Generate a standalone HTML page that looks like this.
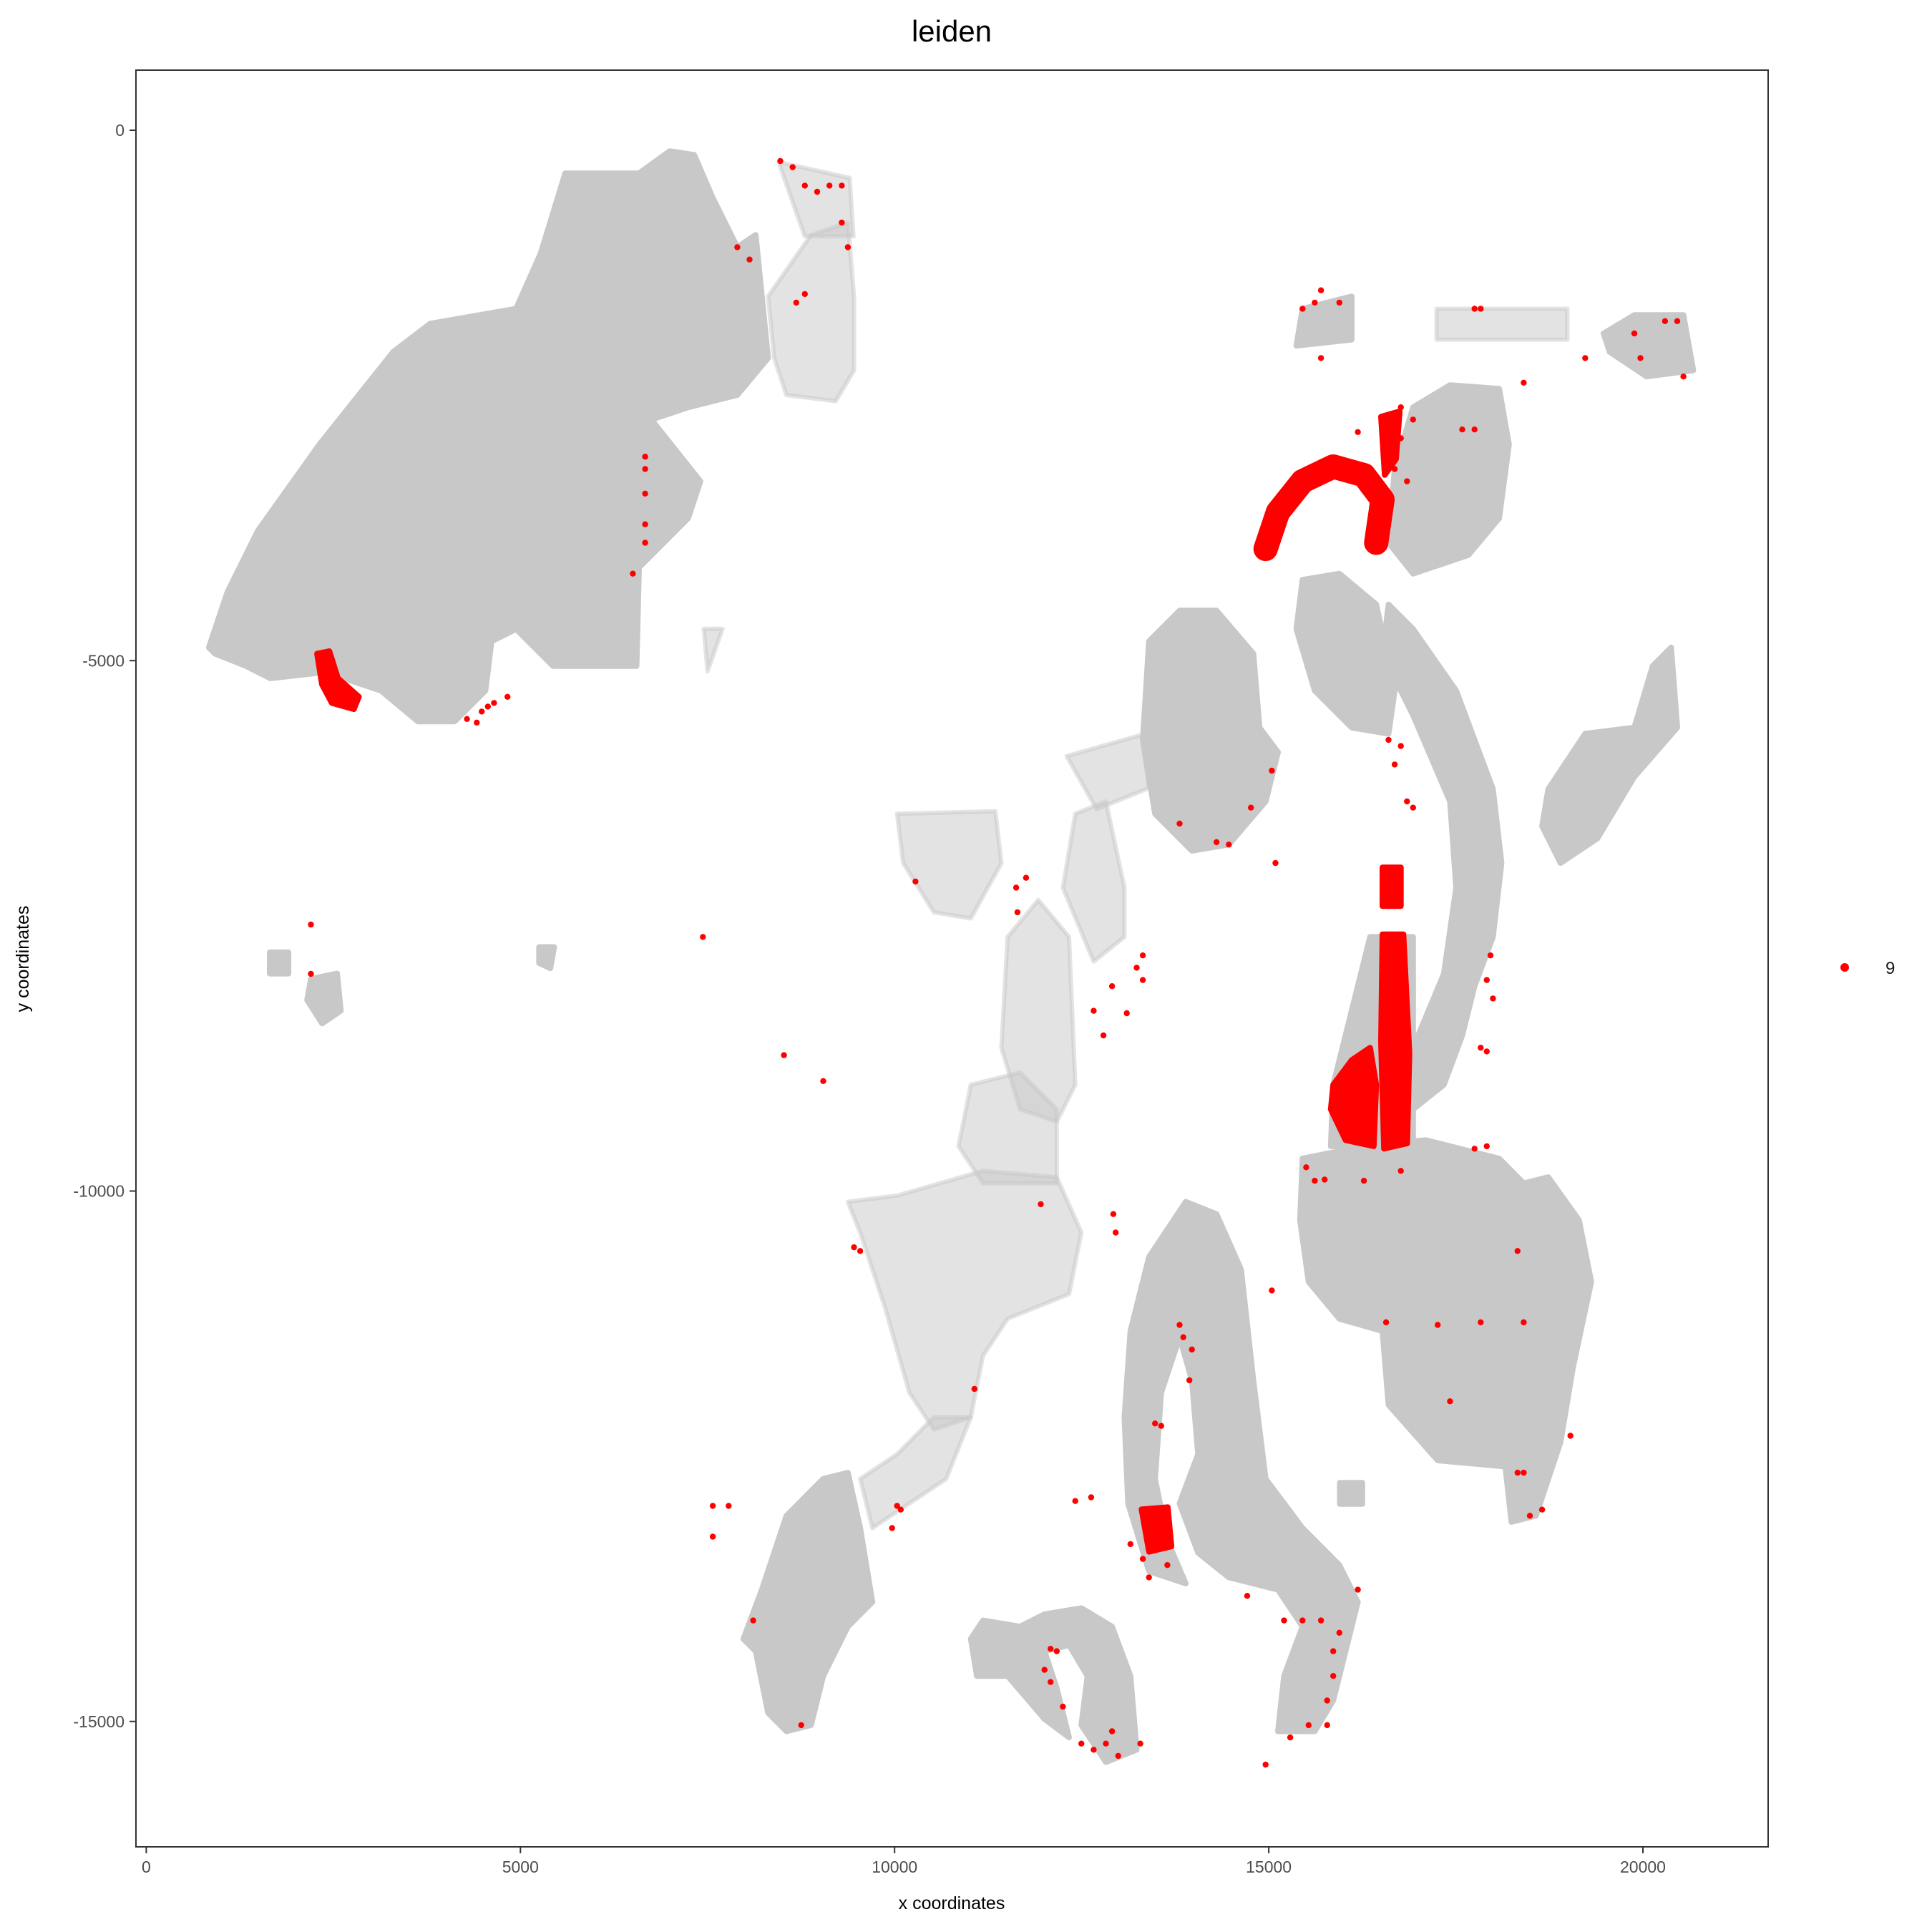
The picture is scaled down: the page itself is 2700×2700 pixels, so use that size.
<!DOCTYPE html>
<html><head><meta charset="utf-8"><style>
body{margin:0;background:#fff;}
svg{display:block;font-family:"Liberation Sans",Arial,sans-serif;}
</style></head><body>
<svg id="chart" width="2700" height="2700" viewBox="0 0 2700 2700" xmlns="http://www.w3.org/2000/svg">
<rect width="2700" height="2700" fill="#fff"/>
<text x="1330" y="58" font-size="42" text-anchor="middle" fill="#000">leiden</text>
<g id="gray"></g><g id="sparse"></g><g id="red"></g>
<rect x="190" y="98" width="2281" height="2483" fill="none" stroke="#333" stroke-width="2"/>
<g id="axes"></g>
<text x="1330" y="2668" font-size="25" text-anchor="middle" fill="#000">x coordinates</text>
<text x="40" y="1340" font-size="25" text-anchor="middle" fill="#000" transform="rotate(-90 40 1340)">y coordinates</text>
<circle cx="2578" cy="1352" r="6" fill="#ff0000"/>
<text x="2635" y="1361" font-size="24" fill="#1a1a1a">9</text>
</svg>
<script>
const xTicks=[0,5000,10000,15000,20000];
const yTicks=[0,-5000,-10000,-15000];
const grayRegions=[
[[837,-4876],[1084,-4354],[1494,-3773],[2315,-2961],[3300,-2090],[3793,-1823],[4942,-1683],[5271,-1161],[5599,-406],[6584,-406],[6995,-197],[7323,-232],[7570,-639],[7898,-1103],[8144,-987],[8226,-1567],[8309,-2148],[7898,-2496],[7241,-2612],[6749,-2728],[7405,-3309],[7241,-3657],[6584,-4122],[6552,-5050],[5435,-5050],[4942,-4702],[4614,-4818],[4532,-5283],[4121,-5573],[3629,-5573],[3136,-5283],[2397,-5108],[1658,-5166],[1330,-5050],[919,-4934]],
[[15369,-2032],[15451,-1683],[16108,-1567],[16108,-1974]],
[[19474,-1916],[19885,-1742],[20541,-1742],[20673,-2264],[20049,-2322],[19556,-2090]],
[[16929,-2612],[17422,-2403],[18079,-2438],[18210,-2961],[18079,-3657],[17668,-4005],[16929,-4180],[16601,-3889],[16683,-3193]],
[[15451,-4238],[15944,-4180],[16436,-4470],[16683,-5283],[16601,-5689],[16108,-5631],[15615,-5283],[15369,-4702]],
[[16601,-4470],[16929,-4702],[17504,-5283],[17996,-6211],[18111,-6908],[17996,-7605],[17750,-8069],[17586,-8533],[17340,-8998],[16929,-9230],[16929,-8649],[17340,-7953],[17504,-7140],[17422,-6327],[16929,-5515],[16519,-4934]],
[[18735,-6211],[19228,-5689],[19885,-5631],[20131,-5050],[20377,-4876],[20459,-5631],[19885,-6095],[19392,-6676],[18899,-6908],[18653,-6560]],
[[13399,-4818],[13809,-4528],[14302,-4528],[14794,-4934],[14877,-5631],[15123,-5863],[14959,-6327],[14466,-6734],[13973,-6792],[13481,-6444],[13317,-5747]],
[[15451,-9694],[16272,-9578],[17093,-9520],[18079,-9694],[18407,-9927],[18735,-9869],[19146,-10275],[19310,-10855],[19064,-11668],[18899,-12365],[18571,-13061],[18243,-13119],[18161,-12597],[17258,-12539],[16601,-12016],[16519,-11320],[15944,-11204],[15533,-10855],[15418,-10275]],
[[13152,-11320],[13399,-10623],[13891,-10101],[14302,-10217],[14630,-10739],[14794,-11784],[14959,-12713],[15451,-13177],[15944,-13526],[16190,-13874],[16026,-14338],[15862,-14803],[15615,-15093],[15123,-15093],[15205,-14571],[15451,-14106],[15123,-13758],[14466,-13642],[14055,-13410],[13809,-12945],[14055,-12481],[13973,-11784],[13809,-11378],[13563,-11900],[13481,-12713],[13645,-13293],[13891,-13700],[13399,-13584],[13120,-12945],[13071,-12132]],
[[11018,-14222],[11182,-14048],[11675,-14106],[12003,-13990],[12496,-13932],[12906,-14106],[13152,-14571],[13235,-15267],[12824,-15383],[12496,-15035],[12578,-14571],[12331,-14280],[12003,-14338],[12167,-14687],[12331,-15151],[12003,-14977],[11510,-14571],[11100,-14571]],
[[8226,-13758],[8555,-13061],[9047,-12713],[9376,-12655],[9540,-13177],[9704,-13874],[9376,-14106],[9047,-14571],[8883,-15035],[8555,-15093],[8309,-14919],[8144,-14338],[7980,-14222]],
[[15862,-8998],[16354,-7605],[16929,-7605],[16929,-9578],[15829,-9578]],
[[2200,-8000],[2550,-7950],[2600,-8300],[2350,-8420],[2150,-8200]],
[[1650,-7750],[1900,-7750],[1900,-7950],[1650,-7950]],
[[5250,-7700],[5450,-7700],[5400,-7900],[5250,-7850]],
[[15950,-12750],[16250,-12750],[16250,-12950],[15950,-12950]]
];
const sparseRegions=[
[[8309,-1567],[8883,-987],[9376,-871],[9458,-1567],[9458,-2264],[9212,-2554],[8555,-2496],[8391,-2148]],
[[8450,-300],[9400,-450],[9450,-1000],[8800,-1000]],
[[17241,-1683],[18990,-1683],[18990,-1974],[17241,-1974]],
[[10033,-6444],[11346,-6420],[11428,-6908],[11018,-7430],[10525,-7372],[10115,-6908]],
[[11510,-7605],[11921,-7256],[12331,-7605],[12414,-8998],[12167,-9346],[11675,-9230],[11428,-8649]],
[[12414,-6444],[12824,-6327],[13071,-7140],[13071,-7605],[12660,-7837],[12249,-7140]],
[[10033,-10043],[11182,-9810],[12167,-9869],[12496,-10391],[12331,-10971],[11510,-11204],[11182,-11552],[11018,-12132],[10525,-12249],[10197,-11900],[9868,-11088],[9540,-10391],[9376,-10101]],
[[10525,-12132],[11018,-12132],[10690,-12713],[10197,-12945],[9704,-13177],[9540,-12713],[10033,-12481]],
[[11018,-8998],[11675,-8882],[12167,-9230],[12167,-9927],[11182,-9927],[10854,-9578]],
[[12300,-5900],[13300,-5700],[13400,-6200],[12700,-6400]],
[[7450,-4700],[7700,-4700],[7500,-5100]]
];
const redBlobs=[
[[2282,-4934],[2447,-4911],[2562,-5166],[2841,-5341],[2775,-5457],[2479,-5399],[2348,-5225]],
[[15862,-8998],[16108,-8766],[16354,-8649],[16436,-8998],[16403,-9578],[16026,-9520],[15829,-9230]],
[[16519,-7580],[16800,-7580],[16880,-8700],[16850,-9550],[16540,-9600],[16500,-8600]],
[[16519,-6950],[16765,-6950],[16765,-7314],[16519,-7314]],
[[13300,-13000],[13650,-12980],[13700,-13350],[13400,-13400]],
[[16500,-2700],[16750,-2650],[16700,-3100],[16550,-3250]]
];
const redArch=[[14958,-3947],[15123,-3599],[15451,-3309],[15862,-3170],[16272,-3251],[16519,-3483],[16436,-3889]];
const redPoints=[[4286,-5550],[4483,-5480],[4647,-5399],[4827,-5341],[4417,-5584],[4565,-5433],[6667,-3077],[6667,-3193],[6667,-3425],[6667,-3715],[6667,-3889],[6502,-4180],[8473,-290],[8637,-348],[8801,-522],[8965,-580],[9130,-522],[9294,-522],[9376,-1103],[9294,-871],[7898,-1103],[8062,-1219],[8686,-1625],[8801,-1544],[15451,-1683],[15615,-1625],[15698,-1509],[15944,-1625],[15698,-2148],[17750,-1683],[17832,-1683],[18407,-2380],[19885,-1916],[19967,-2148],[20295,-1800],[20459,-1800],[20541,-2322],[19228,-2148],[16765,-2612],[16929,-2728],[16765,-2903],[16601,-2961],[16683,-3193],[16847,-3309],[17586,-2821],[17750,-2821],[16190,-2845],[16601,-5747],[16765,-5805],[16683,-5979],[16847,-6327],[16929,-6386],[15041,-6037],[15090,-6908],[14762,-6386],[14302,-6711],[14466,-6734],[13809,-6536],[10279,-7082],[11625,-7140],[11642,-7372],[11757,-7047],[13317,-7779],[13317,-8011],[13235,-7895],[12906,-8069],[12660,-8301],[12791,-8533],[13103,-8324],[17963,-7779],[17914,-8011],[17996,-8185],[17832,-8649],[17914,-8684],[8522,-8719],[9047,-8963],[7438,-7605],[2200,-7488],[2200,-7953],[15500,-9776],[15615,-9903],[15747,-9892],[16272,-9903],[16765,-9810],[17914,-9578],[17750,-9601],[9458,-10530],[9540,-10565],[12923,-10217],[12955,-10391],[11954,-10124],[15041,-10937],[13809,-11262],[13858,-11378],[13973,-11494],[13940,-11784],[13481,-12191],[13563,-12214],[16568,-11238],[17258,-11262],[17832,-11238],[18407,-11238],[18325,-10565],[17422,-11982],[19031,-12307],[18325,-12655],[18407,-12655],[18489,-13061],[18653,-13003],[13152,-13328],[13317,-13468],[13399,-13642],[13645,-13526],[16190,-13758],[15205,-14048],[15451,-14048],[15698,-14048],[15944,-14164],[15862,-14338],[15862,-14571],[15780,-14803],[15780,-15035],[15533,-15035],[15287,-15151],[14958,-15407],[12085,-14315],[12167,-14338],[12003,-14513],[12085,-14629],[12249,-14861],[12496,-15209],[12660,-15267],[12824,-15209],[12988,-15325],[13284,-15209],[12906,-15093],[10033,-12968],[10082,-13003],[9967,-13177],[7570,-12968],[7783,-12968],[7570,-13258],[8111,-14048],[8752,-15035],[12414,-12922],[12627,-12887],[11067,-11865],[14712,-13816]];

const NS='http://www.w3.org/2000/svg';
const X0=204.4, XK=0.10458, Y0=182, YK=0.14825;
function sx(v){return X0+v*XK;}
function sy(v){return Y0-v*YK;}
function pts(poly){return poly.map(p=>sx(p[0]).toFixed(1)+','+sy(p[1]).toFixed(1)).join(' ');}
function mk(tag,attrs,parent){const e=document.createElementNS(NS,tag);for(const k in attrs)e.setAttribute(k,attrs[k]);parent.appendChild(e);return e;}

const gG=document.getElementById('gray');
grayRegions.forEach(r=>{
  const e=mk('polygon',{points:pts(r),fill:'#c8c8c8',stroke:'#c8c8c8','stroke-width':8,'stroke-linejoin':'round'},gG);
  
  
});
const gS=document.getElementById('sparse');
sparseRegions.forEach(r=>{
  const e=mk('polygon',{points:pts(r),fill:'#c8c8c8','fill-opacity':0.5,stroke:'#c8c8c8','stroke-opacity':0.5,'stroke-width':6,'stroke-linejoin':'round'},gS);
  
  
});
const gR=document.getElementById('red');
redBlobs.forEach(r=>{
  const e=mk('polygon',{points:pts(r),fill:'#ff0000',stroke:'#ff0000','stroke-width':8,'stroke-linejoin':'round'},gR);
  
  
});
const arch=mk('polyline',{points:pts(redArch),fill:'none',stroke:'#ff0000','stroke-width':34,'stroke-linejoin':'round','stroke-linecap':'round'},gR);


redPoints.forEach(p=>{
  const c=mk('circle',{cx:sx(p[0]).toFixed(1),cy:sy(p[1]).toFixed(1),r:4.2,fill:'#ff0000'},gR);
  
  
});
const gA=document.getElementById('axes');
xTicks.forEach(t=>{
  const l=mk('line',{x1:sx(t),x2:sx(t),y1:2581,y2:2590,stroke:'#333','stroke-width':2},gA);
  
  
  const tx=mk('text',{x:sx(t),y:2617,'font-size':23,'text-anchor':'middle',fill:'#4d4d4d'},gA);
  tx.textContent=t;
  
  
});
yTicks.forEach(t=>{
  const l=mk('line',{x1:181,x2:190,y1:sy(t),y2:sy(t),stroke:'#333','stroke-width':2},gA);
  
  
  const tx=mk('text',{x:174,y:sy(t)+8,'font-size':23,'text-anchor':'end',fill:'#4d4d4d'},gA);
  tx.textContent=t;
  
  
});
</script>
</body></html>
